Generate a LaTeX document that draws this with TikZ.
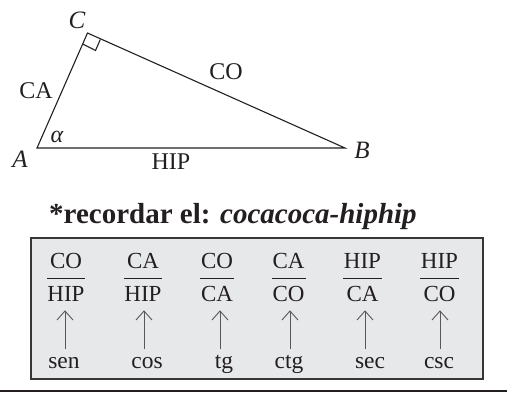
\documentclass[tikz,border=0pt]{standalone}
\usepackage{fontspec}
\setmainfont{Liberation Serif}
\definecolor{boxfill}{RGB}{231,232,234}
\definecolor{ink}{RGB}{35,31,32}
\tikzset{
  px/.style={x=1pt,y=-1pt},
  lab/.style={inner sep=0pt,text=ink,font=\fontsize{24}{26}\selectfont},
  ilab/.style={inner sep=0pt,text=ink,font=\fontsize{25}{27}\selectfont\itshape},
  fn/.style={inner sep=0pt,text=ink,font=\fontsize{23.5}{25}\selectfont,anchor=base},
  frac/.style={inner sep=0pt,text=ink,font=\fontsize{23}{25}\selectfont,anchor=base},
  edge/.style={draw=ink,line width=1.1pt},
  barl/.style={draw=ink,line width=1pt},
  arr/.style={draw=ink!75,line width=0.9pt}
}
\newcommand{\colitem}[8]{%
  \node[frac] (n#1) at (#2,268) {#3};
  \node[frac] (d#1) at (#2,301) {#4};
  \coordinate (bl#1) at (#2-#5,278);
  \coordinate (br#1) at (#2+#5,278);
  \draw[barl] (bl#1) -- (br#1);
  \node[fn] (f#1) at (#6,368) {#7};
  \coordinate (t#1) at (#8,311);
  \coordinate (b#1) at (#8,349);
  \coordinate (la#1) at (#8-8,320);
  \coordinate (ra#1) at (#8+8,320);
  \draw[arr] (b#1) -- (t#1);
  \draw[arr] (la#1) -- (t#1) -- (ra#1);
}
\begin{document}
\begin{tikzpicture}[px]
\useasboundingbox (0,0) rectangle (514,392);
\coordinate (A) at (37,148);
\coordinate (B) at (345,148);
\coordinate (C) at (87.5,33);
\draw[edge,line join=miter] (A) -- (C) -- (B) -- cycle;
\coordinate (r1) at (82.7,44);
\coordinate (r2) at (95.5,50.5);
\coordinate (r3) at (100.3,39.5);
\draw[edge] (r1) -- (r2) -- (r3);
\node[ilab] (lA) at (20,159) {A};
\node[ilab] (lB) at (362,150) {B};
\node[ilab] (lC) at (77,20) {C};
\node[inner sep=0pt,text=ink,font=\fontsize{24}{26}\selectfont] (la) at (57,137) {\textit{α}};
\node[lab] (CA) at (36,91) {CA};
\node[lab] (CO) at (226,72) {CO};
\node[lab] (HIP) at (171,162) {HIP};
\node[inner sep=0pt,text=ink,anchor=base west,font=\fontsize{29}{31}\selectfont\bfseries] (title) at (49,223) {*recordar el: \textit{cocacoca-hiphip}};
\coordinate (b1) at (31,238);
\coordinate (b2) at (483,379);
\draw[draw=ink!90,fill=boxfill,line width=1.6pt] (b1) rectangle (b2);
\colitem{1}{66}{CO}{HIP}{19}{64}{sen}{65}
\colitem{2}{143}{CA}{HIP}{19}{147}{cos}{144}
\colitem{3}{217}{CO}{CA}{17}{224}{tg}{220}
\colitem{4}{288.5}{CA}{CO}{17}{289}{ctg}{290}
\colitem{5}{362.5}{HIP}{CA}{19.5}{370}{sec}{365}
\colitem{6}{439.5}{HIP}{CO}{19.5}{439}{csc}{440}
\coordinate (l1) at (0,391);
\coordinate (l2) at (507,391);
\draw[draw=ink,line width=1.2pt] (l1) -- (l2);
\end{tikzpicture}
\end{document}
